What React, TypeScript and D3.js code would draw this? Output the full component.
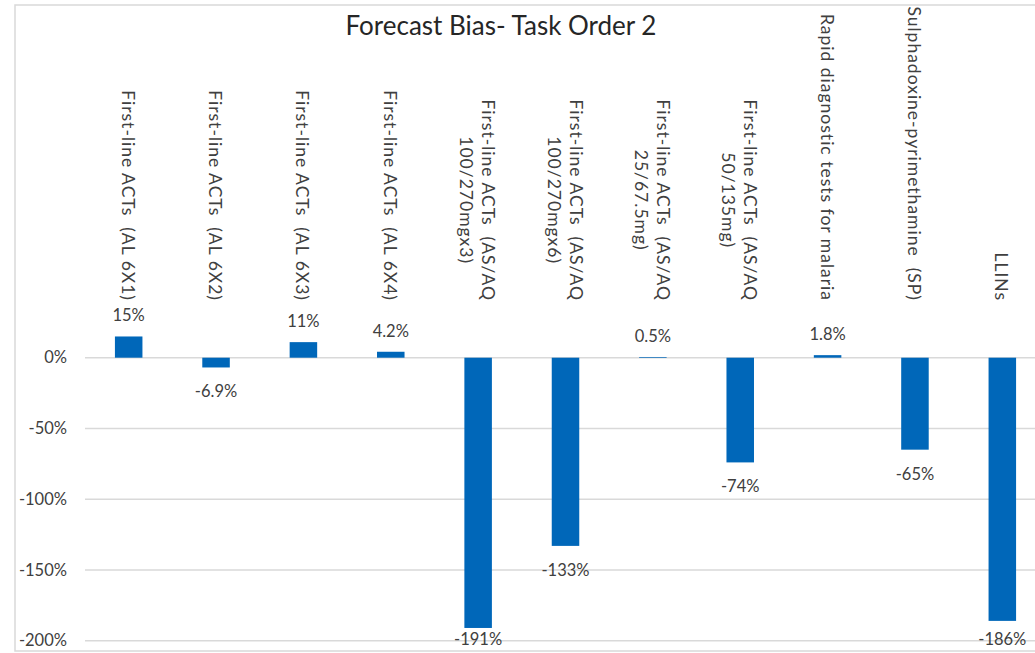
import React, { useEffect, useRef } from "react";
import * as d3 from "d3";

const title = "Forecast Bias- Task Order 2";

const categories: string[] = [
  "First-line ACTs  (AL 6X1)",
  "First-line ACTs  (AL 6X2)",
  "First-line ACTs  (AL 6X3)",
  "First-line ACTs  (AL 6X4)",
  "First-line ACTs  (AS/AQ\n100/270mgx3)",
  "First-line ACTs  (AS/AQ\n100/270mgx6)",
  "First-line ACTs  (AS/AQ\n25/67.5mg)",
  "First-line ACTs  (AS/AQ\n50/135mg)",
  "Rapid diagnostic tests for malaria",
  "Sulphadoxine-pyrimethamine  (SP)",
  "LLINs",
];

const values: number[] = [15, -6.9, 11, 4.2, -191, -133, 0.5, -74, 1.8, -65, -186];
const valueLabels: string[] = ["15%", "-6.9%", "11%", "4.2%", "-191%", "-133%", "0.5%", "-74%", "1.8%", "-65%", "-186%"];
const yTicks: number[] = [0, -50, -100, -150, -200];

const W = 1035;
const H = 653;
const FONT = "Lato, 'Open Sans', sans-serif";
const BAR = "#0067b9";
const GRID = "#d9d9d9";
const TEXT = "#404040";

export default function App() {
  const ref = useRef<SVGSVGElement>(null);

  useEffect(() => {
    const svg = d3.select(ref.current);
    svg.selectAll("*").remove();

    const x = d3
      .scaleBand<string>()
      .domain(categories)
      .range([85, 1046])
      .paddingInner(0.685)
      .paddingOuter(0.3425);
    const y = d3.scaleLinear().domain([-200, 0]).range([640.7, 357.7]);

    // chart border
    svg
      .append("rect")
      .attr("x", 15)
      .attr("y", 5)
      .attr("width", W + 20)
      .attr("height", 646)
      .attr("fill", "none")
      .attr("stroke", GRID)
      .attr("stroke-width", 1.5);

    // title
    svg
      .append("text")
      .attr("x", 501)
      .attr("y", 35)
      .attr("text-anchor", "middle")
      .attr("font-family", FONT)
      .attr("font-size", 26)
      .attr("fill", "#262626")
      .text(title);

    // gridlines
    svg
      .append("g")
      .selectAll("line")
      .data(yTicks)
      .join("line")
      .attr("x1", 85)
      .attr("x2", W)
      .attr("y1", (d) => y(d))
      .attr("y2", (d) => y(d))
      .attr("stroke", GRID)
      .attr("stroke-width", 1.5);

    // y tick labels
    svg
      .append("g")
      .selectAll("text")
      .data(yTicks)
      .join("text")
      .attr("x", 67)
      .attr("y", (d) => y(d))
      .attr("dy", "0.35em")
      .attr("text-anchor", "end")
      .attr("font-family", FONT)
      .attr("font-size", 16.5)
      .attr("fill", TEXT)
      .text((d) => `${d}%`);

    // bars
    svg
      .append("g")
      .selectAll("rect")
      .data(values)
      .join("rect")
      .attr("x", (_, i) => x(categories[i])!)
      .attr("width", x.bandwidth())
      .attr("y", (d) => Math.min(y(d), y(0)))
      .attr("height", (d) => Math.abs(y(d) - y(0)))
      .attr("fill", BAR);

    // value labels
    svg
      .append("g")
      .selectAll("text")
      .data(values)
      .join("text")
      .attr("x", (_, i) => x(categories[i])! + x.bandwidth() / 2)
      .attr("y", (d) => (d >= 0 ? y(d) - 15 : Math.min(y(d) + 30, 645)))
      .attr("text-anchor", "middle")
      .attr("font-family", FONT)
      .attr("font-size", 16.5)
      .attr("fill", TEXT)
      .text((_, i) => valueLabels[i]);

    // category labels (rotated)
    const endY = 301;
    const lineGap = 22;
    categories.forEach((c, i) => {
      const cx = x(c)! + x.bandwidth() / 2;
      const lines = c.split("\n");
      const g = svg.append("g");
      const texts = lines.map((ln) =>
        g
          .append("text")
          .attr("font-family", FONT)
          .attr("font-size", 17.5)
          .attr("letter-spacing", 1)
          .attr("fill", TEXT)
          .attr("text-anchor", "middle")
          .style("white-space", "pre")
          .text(ln)
      );
      const maxLen = Math.max(...texts.map((t) => (t.node() as SVGTextElement).getComputedTextLength()));
      const centerY = endY - maxLen / 2;
      const n = lines.length;
      texts.forEach((t, k) => {
        const off = -1 + ((n - 1) / 2 - k) * lineGap;
        const b = 6 - off;
        t.attr("transform", `translate(${cx - b},${centerY}) rotate(90)`);
      });
    });
  }, []);

  return (
    <svg
      ref={ref}
      width={W}
      height={H}
      style={{ position: "absolute", left: 0, top: 0, background: "#fff" }}
    />
  );
}
